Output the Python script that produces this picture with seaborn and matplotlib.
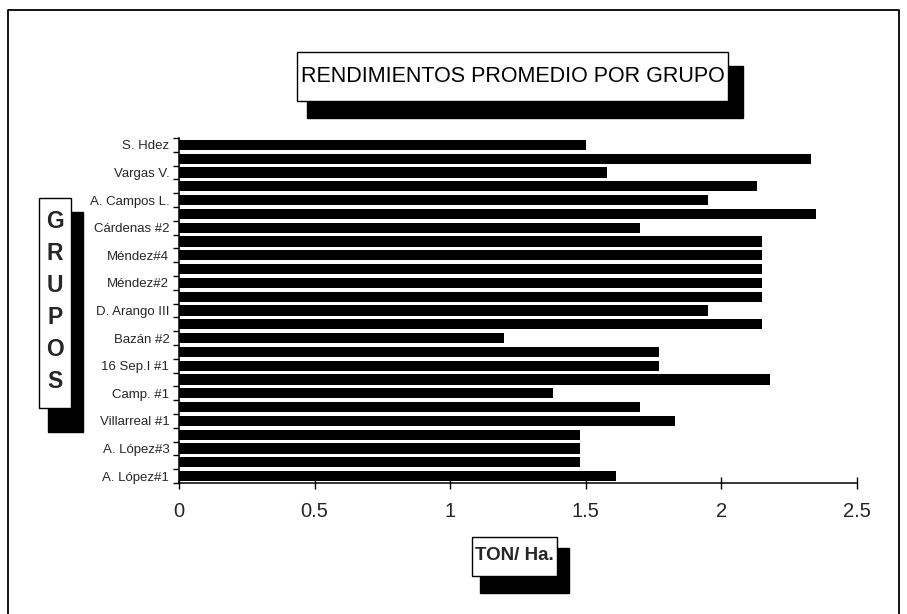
import matplotlib
matplotlib.use("Agg")
import matplotlib.pyplot as plt
from matplotlib.patches import Rectangle
from matplotlib.lines import Line2D
from matplotlib.ticker import FixedLocator, NullFormatter
import seaborn as sns
import pandas as pd

# ---- data (top to bottom as drawn) ----
posicion = list(range(1, 26))
rendimiento = [1.50, 2.33, 1.58, 2.13, 1.95, 2.35, 1.70, 2.15, 2.15, 2.15,
               2.15, 2.15, 1.95, 2.15, 1.20, 1.77, 1.77, 2.18, 1.38, 1.70,
               1.83, 1.48, 1.48, 1.48, 1.61]
etiquetas = ["S. Hdez", "Vargas V.", "A. Campos L.", "Cárdenas #2", "Méndez#4",
             "Méndez#2", "D. Arango III", "Bazán #2", "16 Sep.I #1", "Camp. #1",
             "Villarreal #1", "A. López#3", "A. López#1"]
xticks = [0, 0.5, 1, 1.5, 2, 2.5]
xticklabels = ["0", "0.5", "1", "1.5", "2", "2.5"]
titulo = "RENDIMIENTOS PROMEDIO POR GRUPO"
eje_y = "GRUPOS"
eje_x = "TON/ Ha."

sns.set_style("white")
plt.rcParams['font.family'] = ['Liberation Sans', 'DejaVu Sans']

W, H = 907, 614
fig = plt.figure(figsize=(W / 100, H / 100), dpi=100)

def fx(px):
    return px / W

def fy(py):
    return 1 - py / H

ax = fig.add_axes([fx(179), fy(483), fx(857) - fx(179), fy(138) - fy(483)])

df = pd.DataFrame({"pos": [str(p) for p in posicion], "rend": rendimiento})
sns.barplot(data=df, x="rend", y="pos", order=[str(p) for p in posicion],
            color="black", width=0.74, orient="h", ax=ax, saturation=1,
            edgecolor="black", linewidth=0)

ax.set_xlim(0, 2.5)
ax.set_ylim(len(posicion) - 0.5, -0.5)
ax.set_xlabel("")
ax.set_ylabel("")

# y ticks: labels on every other category, tick marks at boundaries
ax.set_yticks(list(range(0, len(posicion), 2)))
ax.set_yticklabels(etiquetas, fontsize=9.5)
ax.tick_params(axis="y", which="major", length=0, pad=7)
ax.yaxis.set_minor_locator(FixedLocator([i - 0.5 for i in range(len(posicion) + 1)]))
ax.yaxis.set_minor_formatter(NullFormatter())
ax.tick_params(axis="y", which="minor", length=4, width=1.0, direction="out", left=True, color="black")

ax.set_xticks(xticks)
ax.set_xticklabels(xticklabels, fontsize=14.5)
ax.tick_params(axis="x", which="major", length=8, width=1.0, direction="inout", pad=10, bottom=True, color="black")

for s in ["top", "right"]:
    ax.spines[s].set_visible(False)
for s in ["left", "bottom"]:
    ax.spines[s].set_color("black")
    ax.spines[s].set_linewidth(1.1)

def box(x0, y0, x1, y1, **kw):
    r = Rectangle((fx(x0), fy(y1)), fx(x1) - fx(x0), fy(y0) - fy(y1),
                  transform=fig.transFigure, **kw)
    fig.add_artist(r)

# outer frame
fig.add_artist(Line2D([fx(8), fx(8), fx(899), fx(899)], [fy(640), fy(10), fy(10), fy(640)],
                      transform=fig.transFigure, color="black", lw=1.3))

# title box with shadow
box(307, 66, 743, 118, facecolor="black", edgecolor="black", zorder=5)
box(297, 52, 728, 101, facecolor="white", edgecolor="black", lw=1.0, zorder=6)
fig.text(fx(512.5), fy(77), titulo, ha="center", va="center", fontsize=15.5,
         color="black", zorder=7)

# y-axis label box
box(48, 212, 83, 432, facecolor="black", edgecolor="black", zorder=5)
box(39, 198, 71, 408, facecolor="white", edgecolor="black", lw=1.0, zorder=6)
fig.text(fx(55), fy(302), "\n".join(eje_y), ha="center", va="center", fontsize=16.5,
         fontweight="bold", linespacing=1.5, zorder=7)

# x-axis label box
box(480, 548, 569, 593, facecolor="black", edgecolor="black", zorder=5)
box(472, 537, 557, 576, facecolor="white", edgecolor="black", lw=1.0, zorder=6)
fig.text(fx(514), fy(556), eje_x, ha="center", va="center", fontsize=13.5,
         fontweight="bold", zorder=7)

fig.savefig("out.png", dpi=100, facecolor="white")
